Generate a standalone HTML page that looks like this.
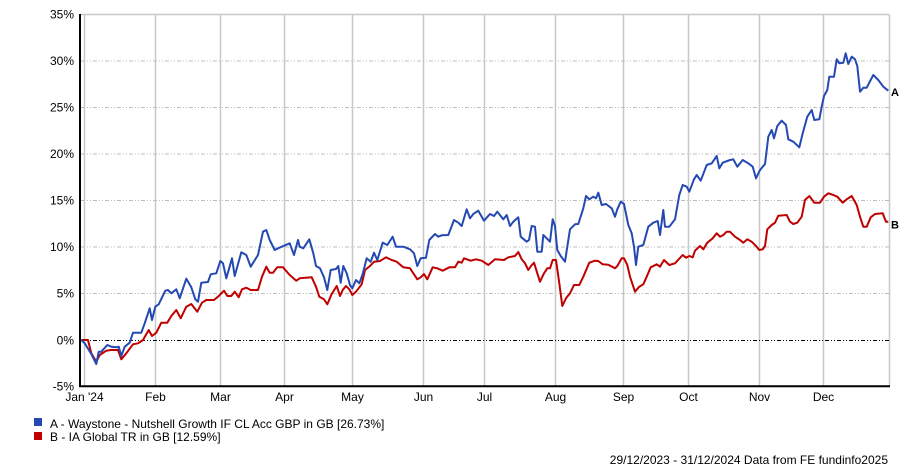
<!DOCTYPE html>
<html><head><meta charset="utf-8"><style>
html,body{margin:0;padding:0;background:#fff;}
body{width:900px;height:467px;overflow:hidden;}
svg{display:block;font-family:"Liberation Sans",Arial,sans-serif;}
</style></head><body>
<svg width="900" height="467" viewBox="0 0 900 467" xmlns="http://www.w3.org/2000/svg">
<g stroke="#c8c8c8" stroke-width="1.5" fill="none">
<line x1="84.5" y1="14.5" x2="84.5" y2="386"/>
<line x1="155.5" y1="14.5" x2="155.5" y2="386"/>
<line x1="220.5" y1="14.5" x2="220.5" y2="386"/>
<line x1="284.5" y1="14.5" x2="284.5" y2="386"/>
<line x1="352.5" y1="14.5" x2="352.5" y2="386"/>
<line x1="423.5" y1="14.5" x2="423.5" y2="386"/>
<line x1="484.5" y1="14.5" x2="484.5" y2="386"/>
<line x1="555.5" y1="14.5" x2="555.5" y2="386"/>
<line x1="623.5" y1="14.5" x2="623.5" y2="386"/>
<line x1="688.5" y1="14.5" x2="688.5" y2="386"/>
<line x1="759.5" y1="14.5" x2="759.5" y2="386"/>
<line x1="823.5" y1="14.5" x2="823.5" y2="386"/>
<line x1="889.5" y1="14.5" x2="889.5" y2="386"/>
<line x1="80" y1="14.5" x2="889.5" y2="14.5"/>
</g>
<g stroke="#bdbdbd" stroke-width="1" stroke-dasharray="4,2,1,2,1,2" fill="none">
<line x1="81" y1="61" x2="889" y2="61"/>
<line x1="81" y1="107.5" x2="889" y2="107.5"/>
<line x1="81" y1="154" x2="889" y2="154"/>
<line x1="81" y1="200.5" x2="889" y2="200.5"/>
<line x1="81" y1="247" x2="889" y2="247"/>
<line x1="81" y1="293.5" x2="889" y2="293.5"/>
</g>
<line x1="81" y1="340.5" x2="889" y2="340.5" stroke="#000" stroke-width="1" stroke-dasharray="4,2,1,2,1,2"/>
<line x1="80" y1="14" x2="80" y2="387" stroke="#000" stroke-width="2"/>
<line x1="79" y1="386.2" x2="890" y2="386.2" stroke="#000" stroke-width="2"/>
<g font-size="12" fill="#000" text-anchor="end">
<text x="74" y="18.5">35%</text>
<text x="74" y="65">30%</text>
<text x="74" y="111.5">25%</text>
<text x="74" y="158">20%</text>
<text x="74" y="204.5">15%</text>
<text x="74" y="251">10%</text>
<text x="74" y="297.5">5%</text>
<text x="74" y="344.5">0%</text>
<text x="74" y="390.5">-5%</text>
</g>
<g font-size="12" fill="#000" text-anchor="middle">
<text x="84.5" y="401">Jan '24</text>
<text x="155.5" y="401">Feb</text>
<text x="220.5" y="401">Mar</text>
<text x="284.5" y="401">Apr</text>
<text x="352.5" y="401">May</text>
<text x="423.5" y="401">Jun</text>
<text x="484.5" y="401">Jul</text>
<text x="555.5" y="401">Aug</text>
<text x="623.5" y="401">Sep</text>
<text x="688.5" y="401">Oct</text>
<text x="759.5" y="401">Nov</text>
<text x="823.5" y="401">Dec</text>
</g>
<polyline fill="none" stroke="#c00000" stroke-width="2" stroke-linejoin="round" points="81.3,340 88,340 91.3,353.3 96.3,361.7 99.7,355 106.3,350.7 111,350 118,350 121.3,359.3 126.3,353.3 133,344.3 138,343.3 143,340 148.7,330 152,336 156.3,332.7 161.3,322.7 167.3,322.7 171.3,316 176.3,310 180.7,318.3 186.3,306.7 191.3,304 197.3,311.7 202,302.7 206.3,300 214,300 218,296.7 224,290.7 227.3,296 231.3,296 234.7,291.7 238.7,297.3 242,289.3 246.3,287.7 250.7,290 258,290 262,276.7 266.3,266.7 269.7,272.7 273,272.7 277.3,267.3 283,267.3 289.7,275 296.3,280.7 299.7,278.3 311.7,277.3 316,286.7 319.3,296.7 324,299.3 327.3,304.3 331.7,294 336.7,286 340,296 342.7,290 346,286 349.3,289.3 352.3,295 356,291.7 361.7,284.3 365,270 370,266 374,261.7 380,261 386,257.3 391.7,260 396.7,261.7 403.3,267.3 410,268.3 417.3,279.3 420.7,277.3 424,274 427.3,279.3 432.7,267.3 437.3,268.3 442.7,270.7 449.3,267.3 455,267.3 458.3,261.7 461.7,262.7 464,258.3 470.7,260.7 476,259.3 481.7,260.7 488.3,265 495,259.3 504,260 508.3,257.3 515,256 518.3,252 521.7,259.3 525,263.3 528.3,270 531,266 534,262.7 537.3,273.3 540,281.7 544,273.3 547.3,268.3 550,268.3 552.7,260 556,260 559.3,283.3 562.3,306 566,298.3 570,293.3 574,285 579.3,285 583.3,276.7 589.3,262.7 595,260.7 598.3,261 602.7,264.3 608.3,264.7 615,268.3 617.3,266 621.7,258.3 624,258.3 627.3,265 630,276.7 635,291.7 639.3,286.7 643.3,284.3 646.7,276.7 650.7,267.3 656.7,264.3 660,266.7 664,260 669.3,265 675,263.3 682.7,255 686,257.7 689.3,256 692.7,257.3 695,250.7 700,246 703.3,249.3 707.3,242.7 712.7,238.3 716.7,233.3 720,236.7 723.3,235 726.7,231.7 730,231.7 735,236.7 740,240 743.3,242.7 747.3,239.3 751.7,241.7 756.7,246.7 759.3,250 762.7,249.3 765,246 767.3,229.3 771.7,225 775,222.7 778.3,215.7 786.7,215 790,221.7 793.3,224 797.3,222.7 801.7,216.7 805,200 809.3,196 814.3,202.7 820,202.7 824,196.7 828.3,193.3 833.3,195 837.3,196.7 842.7,202.7 846.7,199.3 851.7,196 856.7,205 860,216.7 863.3,226.7 866.7,226.7 870.7,217.3 875,214 882.7,213.3 886,221.7 888.3,221.7"/>
<polyline fill="none" stroke="#2549b2" stroke-width="2" stroke-linejoin="round" points="81.3,340 84.7,343.3 91.3,354 96.3,364 98.7,351.7 101.3,351.7 107.3,345 111.3,346.7 117.3,347.3 118.7,346.7 121.3,356 124.7,346.7 129.7,342.7 133,332.7 141.3,332.7 144.7,323.3 149.7,308.3 152,320 155.3,306.7 158.7,304.3 165.3,290.7 168,290 171.3,293.3 176.3,289.3 179.7,298.3 186.3,278.7 191.3,287.3 195.3,299.3 198,301.7 201.3,282.7 208,282 210.7,274.3 216.3,273.3 220.3,261 223,263.3 226.3,278.3 232,258.3 234.7,276 241.3,252.3 246.3,255 250.7,266.7 258,255 263,231.7 266.3,230 269.7,240 274.7,250 278,248.3 289.7,243.3 294,255 298,240 299.7,246.7 303.3,248.3 309.3,239.3 313.3,253.3 316,266 320,268.3 324,277.3 327.3,290 330.7,270 336,269 338.3,266 340.7,282.7 343.3,266 346.7,273.3 350,285 352.3,288.3 356,280 359.3,283.3 362.7,274 366.7,258.3 370.7,261.7 374,252.7 377.3,260 382.7,242.7 387.3,245 392.7,236.7 396,246.7 403.3,246.7 410,249.3 414,253.3 417.3,266 420.7,258.3 426,257.7 429.3,240 435,234 438.3,236.7 441.7,235.3 448.3,235 454,220 458.3,222.7 461.7,226 466.7,209.3 470,218.3 473.3,214 478.3,210.7 484,220.7 490,214 494,216 497.3,211.7 503.3,219.3 506.7,215 510,226 513.3,221.7 518.3,217.3 520.7,236.7 526.7,241.7 529,240 531.7,226 535,226.7 537.3,251.7 541.7,251.7 543.3,235 546.7,238.3 550,241.7 552.7,219.3 555,226 557.3,250 560.7,256 565,261.7 567.3,246.7 570,229.3 575,224.3 578.3,224 583.3,208.3 586,196 589.3,199.3 593.3,196.7 596,198.3 598.3,192.7 601.7,205 606,204 611.7,208.3 615,216.7 617.3,209.3 620.7,201.7 624,204 628.3,225 631.7,233.3 634,246.7 636,265 638.3,246.7 643.3,245 648.3,226.7 653.3,222.7 657.7,221 660,235 663.3,210 665,226.7 669.3,226.7 675,219.3 679.3,195 682.7,185 686.7,186.7 689.3,191.7 694,179.3 696.7,175 700.7,180.7 706.7,165 711.7,163.3 716.7,156 719.3,168.3 722.7,162.7 730,160 733.3,159.3 737.3,166.7 742.7,160 748.3,163.3 752.7,166.7 756,178.3 760,170 765,164 766.7,150 768.3,136.7 771.7,130 774,138.3 777.3,126 781.7,120.7 786,125 788.3,139.3 793.3,141.7 799.3,147.3 802.7,133.3 807.3,116.7 811.7,110 814.3,120 819.3,119.3 821.7,106.7 824,96 827.3,90 829.3,76.7 834,76.7 836.7,59.3 839.3,63.3 843.3,62.7 845.7,53.3 848.3,64 851.7,56.7 855,59.3 857.3,66 860,91.7 863.3,87.7 866.7,87.7 873.3,75 878.3,80 883.3,86.7 888.3,90.7"/>
<text x="891" y="96" font-size="11" font-weight="bold" fill="#000">A</text>
<text x="891" y="228.5" font-size="11" font-weight="bold" fill="#000">B</text>
<rect x="34" y="418" width="8" height="8" fill="#2549b2"/>
<rect x="34" y="432" width="8" height="8" fill="#c00000"/>
<g font-size="12" fill="#000">
<text x="50" y="428">A - Waystone - Nutshell Growth IF CL Acc GBP in GB [26.73%]</text>
<text x="50" y="441">B - IA Global TR in GB [12.59%]</text>
<text x="888" y="464" text-anchor="end">29/12/2023 - 31/12/2024 Data from FE fundinfo2025</text>
</g>
</svg>
</body></html>
